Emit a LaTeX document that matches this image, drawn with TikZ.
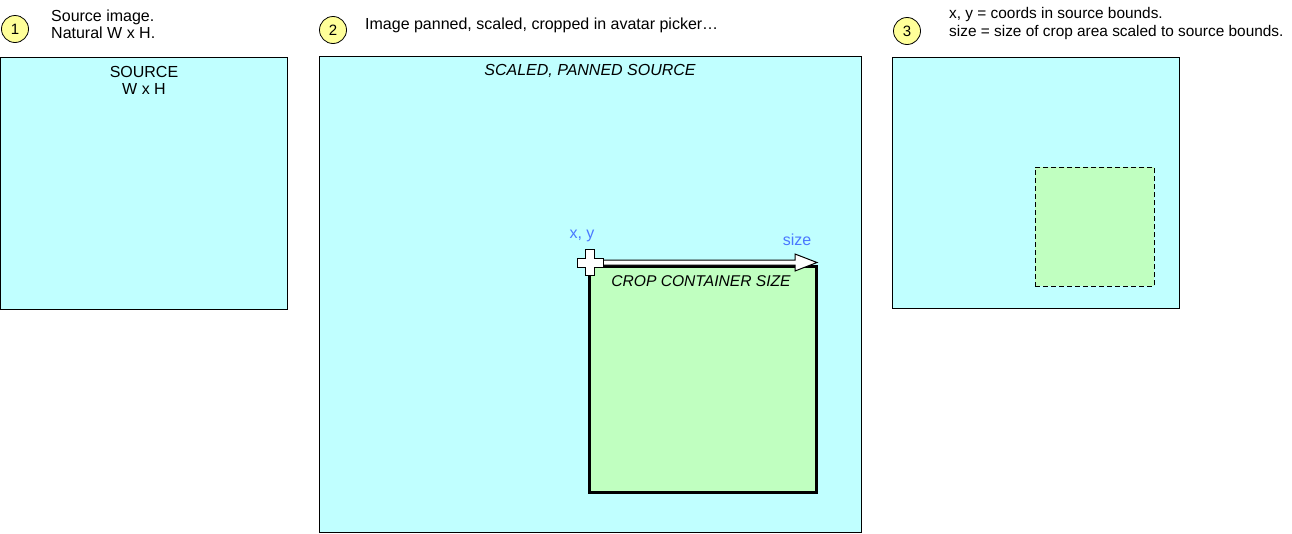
\documentclass[tikz,border=0pt]{standalone}
\usepackage{fontspec}
\setmainfont{Liberation Sans}
\usetikzlibrary{calc, positioning}
\definecolor{skyfill}{HTML}{C0FFFF}
\definecolor{leaf}{HTML}{C0FFC0}
\definecolor{badgefill}{HTML}{FFFF99}
\definecolor{hint}{HTML}{4A78FF}

\begin{document}
\begin{tikzpicture}[
  x=1pt, y=-1pt,
  panel/.style={draw, fill=skyfill, line width=0.8pt, anchor=north west, inner sep=0pt},
  badge/.style={circle, draw, fill=badgefill, line width=0.8pt, minimum size=27pt, inner sep=0pt, font=\fontsize{15}{17}\selectfont},
  note/.style={anchor=west, align=left, inner sep=0pt, font=\fontsize{16}{17}\selectfont},
  caption/.style={align=center, inner sep=0pt, font=\fontsize{16}{17}\selectfont},
  hinttext/.style={text=hint, inner sep=0pt, font=\fontsize{16}{17}\selectfont},
]
\useasboundingbox (0,0) rectangle (1292,533);

% Step 1
\node[badge] (b1) at (15,29) {1};
\node[note] (n1) at (51,24.5) {Source image.\\Natural W x H.};
\node[panel, minimum width=287pt, minimum height=252pt] (src) at (0,57) {};
\node[caption] (srclabel) at (144,80.5) {SOURCE\\W x H};

% Step 2
\node[badge] (b2) at (333,30) {2};
\node[note] (n2) at (365,25) {Image panned, scaled, cropped in avatar picker…};
\node[panel, minimum width=542pt, minimum height=476pt] (scaled) at (319,56) {};
\node[caption, font=\fontsize{16}{17}\selectfont\itshape] (scaledlabel) at (590,71) {SCALED, PANNED SOURCE};
\node[draw, fill=leaf, line width=3pt, anchor=north west, inner sep=0pt,
      minimum width=227pt, minimum height=226pt] (crop) at (588,265) {};
\node[caption, font=\fontsize{15.6}{17}\selectfont\itshape] (croplabel) at (701,281) {CROP CONTAINER SIZE};

% Size arrow and origin marker
\coordinate (xy) at (590,262.5);
\coordinate (tip) at (817,262.5);
\draw[fill=white, line width=1pt] ($(xy)+(7,-2.5)$) -- ($(tip)+(-22,-2.5)$) -- ($(tip)+(-22,-8.5)$)
  -- (tip) -- ($(tip)+(-22,8.5)$) -- ($(tip)+(-22,2.5)$) -- ($(xy)+(7,2.5)$) -- cycle;
\draw[fill=white, line width=1pt] ($(xy)+(-4.5,-13)$) -- ($(xy)+(4.5,-13)$) -- ($(xy)+(4.5,-4.5)$)
  -- ($(xy)+(13,-4.5)$) -- ($(xy)+(13,4.5)$) -- ($(xy)+(4.5,4.5)$) -- ($(xy)+(4.5,13)$)
  -- ($(xy)+(-4.5,13)$) -- ($(xy)+(-4.5,4.5)$) -- ($(xy)+(-13,4.5)$) -- ($(xy)+(-13,-4.5)$)
  -- ($(xy)+(-4.5,-4.5)$) -- cycle;
\node[hinttext] (xylabel) at (582,236) {x, y};
\node[hinttext] (sizelabel) at (797,240) {size};

% Step 3
\node[badge] (b3) at (907,31) {3};
\node[note, font=\fontsize{15.4}{18}\selectfont] (n3) at (949,24) {x, y = coords in source bounds.\\size = size of crop area scaled to source bounds.};
\node[panel, minimum width=287pt, minimum height=251pt] (bounds) at (892,57) {};
\node[draw, dash pattern=on 5pt off 3pt, fill=leaf, line width=0.8pt, anchor=north west, inner sep=0pt,
      minimum width=119pt, minimum height=119pt] (area) at (1035,167) {};
\end{tikzpicture}
\end{document}
